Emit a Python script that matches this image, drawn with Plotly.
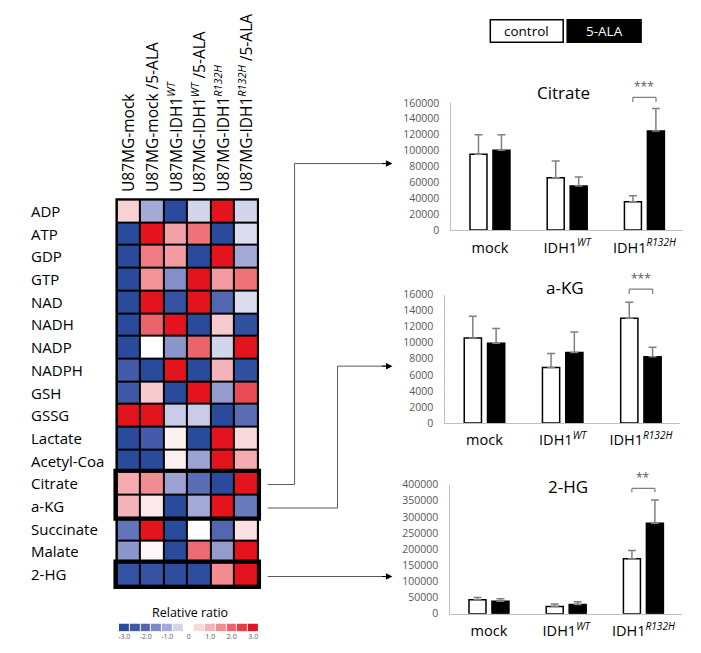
import plotly.graph_objects as go

W, H = 701, 653
def px(x): return x / W
def py(y): return 1 - y / H

# ---------------- data ----------------
metabolites = ["ADP", "ATP", "GDP", "GTP", "NAD", "NADH", "NADP", "NADPH", "GSH", "GSSG",
               "Lactate", "Acetyl-Coa", "Citrate", "a-KG", "Succinate", "Malate", "2-HG"]
samples = ["U87MG-mock", "U87MG-mock /5-ALA",
           "U87MG-IDH1<sup><i>WT</i></sup>", "U87MG-IDH1<sup><i>WT</i></sup> /5-ALA",
           "U87MG-IDH1<sup><i>R132H</i></sup>", "U87MG-IDH1<sup><i>R132H</i></sup> /5-ALA"]
ratio = [
    [0.6, -1.0, -3.0, -0.5, 3.0, -0.5],
    [-3.0, 3.0, 1.2, 1.8, -3.0, -0.4],
    [-3.0, 1.7, 1.3, -3.0, 3.0, -1.0],
    [-3.0, 1.4, -1.4, 3.0, 1.3, 1.8],
    [-3.0, 3.0, -2.7, 3.0, -2.0, -0.4],
    [-3.0, 2.0, 3.0, -3.0, 0.7, -2.8],
    [-3.0, 0.0, -1.3, 2.0, -0.5, 3.0],
    [-2.4, -3.0, 3.0, -3.0, 1.0, -2.8],
    [-2.5, 0.7, -3.0, 3.0, -1.2, 2.3],
    [3.0, 3.0, -0.6, -0.6, -3.0, -1.9],
    [-3.0, -2.4, 0.2, -3.0, 3.0, 0.5],
    [-3.0, -3.0, 0.2, -1.1, 3.0, 1.1],
    [1.1, 1.5, -1.1, -1.9, -3.0, 3.0],
    [1.0, 0.3, -3.0, -1.0, 3.0, -1.7],
    [-1.8, 3.0, -3.0, 0.0, -2.0, 0.4],
    [-1.3, 0.1, -3.0, 1.9, -1.2, 3.0],
    [-2.7, -2.7, -2.9, -2.9, 1.5, 3.0],
]
cbar_vals = [-3.0, -2.5, -2.0, -1.5, -1.0, -0.5, 0.0, 0.5, 1.0, 1.5, 2.0, 2.5, 3.0]
cbar_tickvals = [-3, -2, -1, 0, 1, 2, 3]
cbar_ticktext = ["-3.0", "-2.0", "-1.0", "0", "1.0", "2.0", "3.0"]

groups = ["mock", "IDH1<sup><i>WT</i></sup>", "IDH1<sup><i>R132H</i></sup>"]
series_names = ["control", "5-ALA"]

citrate_ctrl = [95500, 66000, 35700]
citrate_ctrl_err = [24500, 21000, 7400]
citrate_ala = [100500, 55400, 124700]
citrate_ala_err = [19300, 11500, 28300]

akg_ctrl = [10600, 6900, 13070]
akg_ctrl_err = [2700, 1750, 2000]
akg_ala = [9930, 8800, 8270]
akg_ala_err = [1850, 2550, 1180]

hg_ctrl = [43500, 22300, 170000]
hg_ctrl_err = [7000, 8000, 26000]
hg_ala = [38500, 28400, 280500]
hg_ala_err = [8000, 9000, 72000]

panel_titles = ["Citrate", "a-KG", "2-HG"]
panel_max = [160000, 16000, 400000]
panel_dtick = [20000, 2000, 50000]
sig_labels = ["***", "***", "**"]
sig_top = [167000, 16700, 388000]
sig_bottom = [161000, 16100, 376000]

# ---------------- figure ----------------
colorscale = [
    [0.0, "#2a4a9c"], [0.1667, "#5366b0"], [0.3333, "#a4aad6"], [0.5, "#ffffff"],
    [0.6667, "#f4b3b8"], [0.8333, "#ec646b"], [1.0, "#e3141d"],
]
FONT = "Open Sans"
fig = go.Figure()

# heatmap
fig.add_trace(go.Heatmap(
    z=ratio, x=list(range(6)), y=list(range(len(metabolites))),
    zmin=-3, zmax=3, colorscale=colorscale, showscale=False,
    xgap=2, ygap=2, xaxis="x", yaxis="y", hoverinfo="z"))

# colour key
fig.add_trace(go.Heatmap(
    z=[cbar_vals], x=cbar_vals, y=[0], zmin=-3, zmax=3, colorscale=colorscale,
    showscale=False, xgap=1, xaxis="x5", yaxis="y5", hoverinfo="skip"))

panels = [
    (citrate_ctrl, citrate_ctrl_err, citrate_ala, citrate_ala_err),
    (akg_ctrl, akg_ctrl_err, akg_ala, akg_ala_err),
    (hg_ctrl, hg_ctrl_err, hg_ala, hg_ala_err),
]
for k, (c, ce, a, ae) in enumerate(panels):
    xa, ya = f"x{k+2}", f"y{k+2}"
    fig.add_trace(go.Bar(
        x=[0, 1, 2], y=c, name=series_names[0], showlegend=False,
        marker=dict(color="white", line=dict(color="black", width=1.5)),
        error_y=dict(type="data", array=ce, arrayminus=[0, 0, 0], symmetric=False,
                     color="#808080", thickness=1.5, width=4),
        xaxis=xa, yaxis=ya))
    fig.add_trace(go.Bar(
        x=[0, 1, 2], y=a, name=series_names[1], showlegend=False,
        marker=dict(color="black", line=dict(color="black", width=1.5)),
        error_y=dict(type="data", array=ae, arrayminus=[0, 0, 0], symmetric=False,
                     color="#808080", thickness=1.5, width=4),
        xaxis=xa, yaxis=ya))

layout = dict(
    width=W, height=H, margin=dict(l=0, r=0, t=0, b=0),
    paper_bgcolor="white", plot_bgcolor="white",
    font=dict(family=FONT, color="black"),
    barmode="group", bargap=0.405, bargroupgap=0.26,
    showlegend=False,
)

# heatmap axes (extended range so borders are not clipped)
cw, rh = 23.5, 23.2
hx0, hx1, hy0, hy1 = 116, 257, 197, 591
cx, cy = (hx0 + hx1) / 2, (hy0 + hy1) / 2
layout["xaxis"] = dict(domain=[px(cx - 3.2 * cw), px(cx + 3.2 * cw)], range=[-0.7, 5.7],
                       visible=False, fixedrange=True)
layout["yaxis"] = dict(domain=[py(cy + 8.7 * rh), py(cy - 8.7 * rh)], range=[16.7, -0.7],
                       visible=False, fixedrange=True)

# bar panel axes
bar_boxes = [(451, 683, 228, 98), (445, 680, 425, 294), (450, 682, 620, 488)]
for k, (x0, x1, y0, y1) in enumerate(bar_boxes):
    layout[f"xaxis{k+2}"] = dict(
        domain=[px(x0), px(x1)], range=[-0.5, 2.5], anchor=f"y{k+2}",
        tickvals=[0, 1, 2], ticktext=groups, showline=True, linecolor="#bfbfbf",
        linewidth=1, ticks="", showgrid=False, zeroline=False,
        tickfont=dict(size=14.5, color="black"), ticklabelstandoff=4, fixedrange=True)
    layout[f"yaxis{k+2}"] = dict(
        domain=[py(y0), py(y1)], range=[0, panel_max[k]], anchor=f"x{k+2}",
        dtick=panel_dtick[k], tickformat="d", showline=True, linecolor="#bfbfbf",
        linewidth=1, ticks="", showgrid=False, zeroline=False,
        tickfont=dict(size=10.5, color="#595959"), ticklabelstandoff=9, fixedrange=True)

# colour key axes
layout["xaxis5"] = dict(domain=[px(118), px(258)], range=[-3.25, 3.25], anchor="y5",
                        tickvals=cbar_tickvals, ticktext=cbar_ticktext, ticks="",
                        showline=False, showgrid=False, zeroline=False,
                        tickfont=dict(size=7, color="#595959"), ticklabelstandoff=0,
                        fixedrange=True)
layout["yaxis5"] = dict(domain=[py(638), py(630)], range=[-0.5, 0.5], anchor="x5",
                        visible=False, fixedrange=True)

shapes = []
annotations = []

def note(text, x, y, size, color="black", **kw):
    d = dict(text=text, xref="paper", yref="paper", x=px(x), y=py(y),
             xanchor="center", yanchor="middle", showarrow=False,
             font=dict(size=size, color=color, family=FONT))
    d.update(kw)
    annotations.append(d)

# black background behind heatmap cells (gap lines + outer border)
shapes.append(dict(type="rect", xref="x", yref="y", x0=-0.56, x1=5.56, y0=-0.56, y1=16.56,
                   fillcolor="black", line=dict(width=0), layer="below"))
# thick boxes around highlighted rows
for (r0, r1) in [(12, 13), (16, 16)]:
    shapes.append(dict(type="rect", xref="x", yref="y", x0=-0.56, x1=5.56,
                       y0=r0 - 0.56, y1=r1 + 0.56, line=dict(color="black", width=4),
                       fillcolor="rgba(0,0,0,0)", layer="above"))

# significance brackets (domain refs so they may sit above the axis range)
for k in range(3):
    xa, yd = f"x{k+2}", f"y{k+2} domain"
    t, b = sig_top[k] / panel_max[k], sig_bottom[k] / panel_max[k]
    for (x0, y0, x1, y1) in [(1.85, b, 1.85, t), (1.85, t, 2.15, t), (2.15, t, 2.15, b)]:
        shapes.append(dict(type="line", xref=xa, yref=yd, x0=x0, y0=y0, x1=x1, y1=y1,
                           line=dict(color="#7f7f7f", width=1.2)))
    annotations.append(dict(text=sig_labels[k], xref=xa, yref=yd, x=2, y=t,
                            xanchor="center", yanchor="bottom", showarrow=False,
                            font=dict(size=12, color="#595959", family=FONT)))

# row labels
for i, m in enumerate(metabolites):
    annotations.append(dict(text=m, xref="paper", x=px(28), xanchor="left",
                            yref="y", y=i, yanchor="middle", showarrow=False,
                            font=dict(size=15, family=FONT)))
# column labels
for j, s in enumerate(samples):
    annotations.append(dict(text=s, xref="x", x=j, xanchor="center",
                            yref="paper", y=py(191), yanchor="bottom", textangle=-90,
                            showarrow=False, font=dict(size=15.5, family=FONT)))

note("Relative ratio", 189, 619, 12.5)

# panel titles
title_pos = [(563, 87), (565, 287), (568, 490)]
for k, t in enumerate(panel_titles):
    note(t, title_pos[k][0], title_pos[k][1], 17)

# legend boxes
shapes.append(dict(type="rect", xref="paper", yref="paper", x0=px(490), x1=px(563),
                   y0=py(36), y1=py(13), fillcolor="white", line=dict(color="black", width=1.5)))
shapes.append(dict(type="rect", xref="paper", yref="paper", x0=px(567), x1=px(641),
                   y0=py(36), y1=py(13), fillcolor="black", line=dict(color="black", width=1.5)))
note(series_names[0], 526.5, 24.5, 13.5)
note(series_names[1], 604, 24.5, 13.5, color="white")

# connectors
LC = "#5a5a5a"
def seg(x0, y0, x1, y1):
    shapes.append(dict(type="line", xref="paper", yref="paper", x0=px(x0), y0=py(y0),
                       x1=px(x1), y1=py(y1), line=dict(color=LC, width=1)))
def arrow(x0, x1, y):
    seg(x0, y, x1 - 4, y)
    annotations.append(dict(text="", xref="paper", yref="paper", x=px(x1), y=py(y),
                            ax=-12, ay=0, showarrow=True, arrowhead=2, arrowsize=1.3,
                            arrowwidth=1, arrowcolor="black"))

seg(267, 488, 294, 488); seg(294, 488, 294, 160); arrow(294, 392, 160)
seg(267, 512, 337, 512); seg(337, 512, 337, 367); arrow(337, 392, 367)
arrow(267, 392, 582)

layout["shapes"] = shapes
layout["annotations"] = annotations
fig.update_layout(**layout)
fig.write_html("out.html", config={"displayModeBar": False},
               post_script="document.body.style.margin='0';document.body.style.overflow='hidden';")
